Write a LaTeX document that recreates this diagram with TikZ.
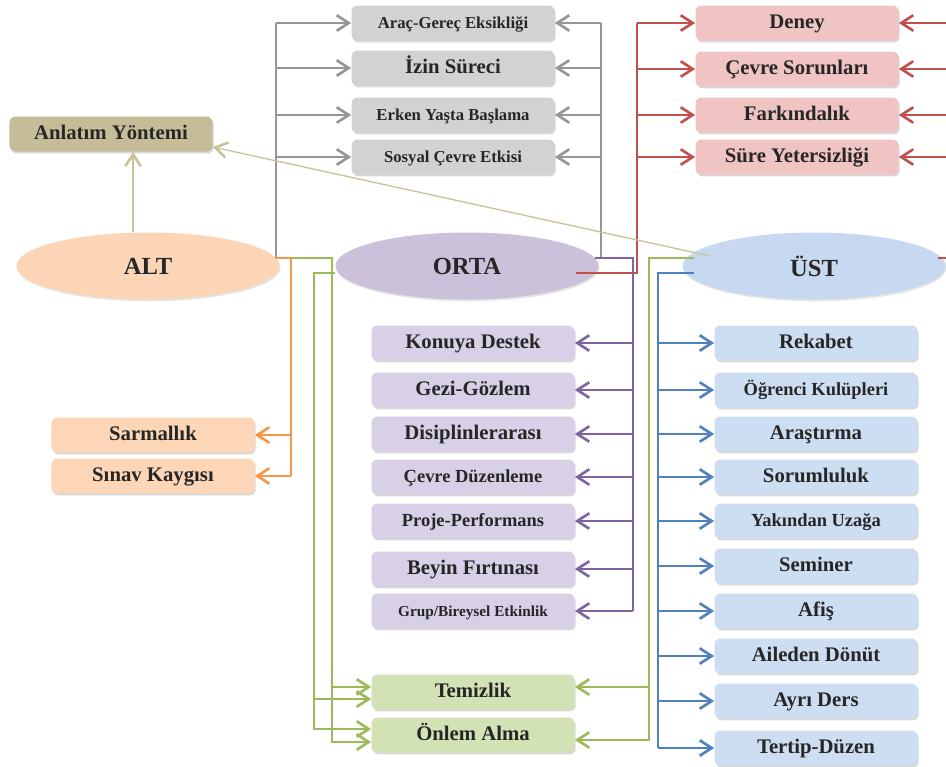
\documentclass[tikz,border=0pt]{standalone}
\usepackage{fontspec}
\setmainfont{Liberation Serif}
\usetikzlibrary{arrows.meta,positioning,shapes.geometric,calc,shadows}
\definecolor{dgray}{RGB}{150,150,150}
\definecolor{fgray}{RGB}{210,210,210}
\definecolor{dred}{RGB}{192,80,77}
\definecolor{fred}{RGB}{240,196,195}
\definecolor{dpurple}{RGB}{128,100,162}
\definecolor{fpurple}{RGB}{216,208,230}
\definecolor{dblue}{RGB}{79,129,189}
\definecolor{fblue}{RGB}{205,222,242}
\definecolor{dorange}{RGB}{247,150,70}
\definecolor{forange}{RGB}{252,214,182}
\definecolor{dgreen}{RGB}{155,187,89}
\definecolor{fgreen}{RGB}{210,226,180}
\definecolor{dkhaki}{RGB}{200,196,152}
\definecolor{fkhaki}{RGB}{196,189,151}
\definecolor{falt}{RGB}{251,213,181}
\definecolor{forta}{RGB}{204,193,218}
\definecolor{fust}{RGB}{198,217,241}
\newcommand{\fmain}{\fontsize{11.8}{14}\selectfont\bfseries}
\newcommand{\fmid}{\fontsize{10.5}{12}\selectfont\bfseries}
\newcommand{\fsmall}{\fontsize{9.5}{11}\selectfont\bfseries}
\newcommand{\ftiny}{\fontsize{8.7}{10}\selectfont\bfseries}
\newcommand{\foval}{\fontsize{14}{16}\selectfont\bfseries}

\begin{document}
\begin{tikzpicture}[x=0.2mm, y=-0.2mm,
  tbox/.style={rectangle, rounded corners=1.2mm, minimum width=4.06cm,
               minimum height=0.7cm, inner sep=1pt, font=\fmain, text=black!85,
               text height=1.6ex, text depth=0.3ex,
               drop shadow={shadow xshift=0.7pt, shadow yshift=-1.1pt, opacity=0.3}},
  oval/.style={ellipse, minimum width=5.26cm, minimum height=1.34cm,
               inner sep=0pt, font=\foval, text=black!85,
               drop shadow={shadow xshift=0.6pt, shadow yshift=-1pt, opacity=0.2}},
  cline/.style={line width=0.75pt},
  carr/.style={line width=0.75pt, -{Straight Barb[length=2.4mm, width=3.1mm, line width=1.5pt]}}
]
\path[use as bounding box, fill=white] (0,0) rectangle (946,767);
\clip (0,0) rectangle (946,767);

% Levels
\node[oval, fill=falt]  (alt)  at (148,266) {ALT};
\node[oval, fill=forta] (orta) at (467,266) {ORTA};
\node[oval, fill=fust]  (ust)  at (814,266) {ÜST};

% Left boxes
\node[tbox, fill=fkhaki]  (anl)   at (111,134) {Anlatım Yöntemi};
\node[tbox, fill=forange] (sar)   at (153,435) {Sarmallık};
\node[tbox, fill=forange] (sinav) at (153,476) {Sınav Kaygısı};

% Gray boxes
\node[tbox, fill=fgray, font=\fsmall] (arac)   at (453,23)  {Araç-Gereç Eksikliği};
\node[tbox, fill=fgray]               (izin)   at (453,68)  {İzin Süreci};
\node[tbox, fill=fgray, font=\fsmall] (erken)  at (453,115) {Erken Yaşta Başlama};
\node[tbox, fill=fgray, font=\fsmall] (sosyal) at (453,157) {Sosyal Çevre Etkisi};

% Red boxes
\node[tbox, fill=fred] (deney)  at (797,23)  {Deney};
\node[tbox, fill=fred] (cevres) at (797,69)  {Çevre Sorunları};
\node[tbox, fill=fred] (fark)   at (797,115) {Farkındalık};
\node[tbox, fill=fred] (sure)   at (797,157) {Süre Yetersizliği};

% Purple boxes
\node[tbox, fill=fpurple]             (konu)   at (473,343) {Konuya Destek};
\node[tbox, fill=fpurple]             (gezi)   at (473,390) {Gezi-Gözlem};
\node[tbox, fill=fpurple]             (disip)  at (473,434) {Disiplinlerarası};
\node[tbox, fill=fpurple, font=\fmid] (cevred) at (473,477) {Çevre Düzenleme};
\node[tbox, fill=fpurple, font=\fmid] (proje)  at (473,521) {Proje-Performans};
\node[tbox, fill=fpurple]             (beyin)  at (473,569) {Beyin Fırtınası};
\node[tbox, fill=fpurple, font=\ftiny] (grup)  at (473,611) {Grup/Bireysel Etkinlik};

% Green boxes
\node[tbox, fill=fgreen] (tem) at (473,692) {Temizlik};
\node[tbox, fill=fgreen] (onl) at (473,735) {Önlem Alma};

% Blue boxes
\node[tbox, fill=fblue]             (rek)  at (816,343) {Rekabet};
\node[tbox, fill=fblue, font=\fmid] (ogr)  at (816,390) {Öğrenci Kulüpleri};
\node[tbox, fill=fblue]             (aras) at (816,434) {Araştırma};
\node[tbox, fill=fblue]             (sor)  at (816,477) {Sorumluluk};
\node[tbox, fill=fblue, font=\fmid] (yak)  at (816,521) {Yakından Uzağa};
\node[tbox, fill=fblue]             (sem)  at (816,566) {Seminer};
\node[tbox, fill=fblue]             (afis) at (816,611) {Afiş};
\node[tbox, fill=fblue]             (aile) at (816,656) {Aileden Dönüt};
\node[tbox, fill=fblue]             (ayri) at (816,701) {Ayrı Ders};
\node[tbox, fill=fblue]             (tert) at (816,748) {Tertip-Düzen};

% Joints
\coordinate (altJ)  at ($(alt.east)+(-4,-8)$);
\coordinate (altO)  at ($(altJ)+(15,0)$);
\coordinate (altG)  at ($(altJ)+(56,0)$);
\coordinate (altN)  at ($(alt.north)+(-15,0)$);
\coordinate (ortW)  at ($(orta.west)+(0,7)$);
\coordinate (ortG)  at ($(ortW)+(-21,0)$);
\coordinate (ortE)  at ($(orta.east)+(-4,-8)$);
\coordinate (ortGr) at ($(ortE)+(6,0)$);
\coordinate (ortP)  at ($(ortE)+(38,0)$);
\coordinate (ortR)  at ($(orta.east)+(-23,7)$);
\coordinate (ortRv) at ($(ortR)+(61,0)$);
\coordinate (ustG)  at ($(ust.west)+(12,-8)$);
\coordinate (ustGv) at ($(ustG)+(-45,0)$);
\coordinate (ustB)  at ($(ust.west)+(12,7)$);
\coordinate (ustBv) at ($(ustB)+(-36,0)$);
\coordinate (ustR)  at ($(ust.east)+(-8,-8)$);
\coordinate (ustRv) at ($(ustR)+(25,0)$);
\coordinate (temA)  at ($(tem.west)+(0,-5)$);
\coordinate (temB)  at ($(tem.west)+(0,7)$);
\coordinate (temC)  at ($(tem.east)+(0,-5)$);
\coordinate (onlA)  at ($(onl.west)+(0,7)$);
\coordinate (onlB)  at ($(onl.west)+(0,-6)$);
\coordinate (onlC)  at ($(onl.east)+(0,5)$);

% ALT arrows
\draw[carr, dkhaki] (altN) -- (altN |- anl.south);
\draw[cline, dgray] (altJ) -- (altJ |- arac.west);
\foreach \n in {arac,izin,erken,sosyal}
  \draw[carr, dgray] (altJ |- \n.west) -- (\n.west);
\draw[carr, dgreen] (altJ) -| (altG |- onlA) -- (onlA);
\draw[carr, dgreen] (altG |- temA) -- (temA);
\draw[cline, dorange] (altJ) -- (altO) -- (altO |- sinav.east);
\foreach \n in {sar,sinav}
  \draw[carr, dorange] (altO |- \n.east) -- (\n.east);

% ORTA arrows
\draw[carr, dgreen] (ortW) -- (ortG) |- (onlB);
\draw[carr, dgreen] (ortG |- temB) -- (temB);
\draw[cline, dgray] (ortE) -- (ortGr) -- (ortGr |- arac.east);
\foreach \n in {arac,izin,erken,sosyal}
  \draw[carr, dgray] (ortGr |- \n.east) -- (\n.east);
\draw[cline, dpurple] (ortE) -- (ortP) -- (ortP |- grup.east);
\foreach \n in {konu,gezi,disip,cevred,proje,beyin,grup}
  \draw[carr, dpurple] (ortP |- \n.east) -- (\n.east);
\draw[cline, dred] (ortR) -- (ortRv) -- (ortRv |- deney.west);
\foreach \n in {deney,cevres,fark,sure}
  \draw[carr, dred] (ortRv |- \n.west) -- (\n.west);

% UST arrows
\draw[carr, dkhaki] ($(ust.west)+(28,-10)$) -- ($(anl.east)+(0,13)$);
\draw[carr, dgreen] (ustG) -- (ustGv) |- (onlC);
\draw[carr, dgreen] (ustGv |- temC) -- (temC);
\draw[cline, dblue] (ustB) -- (ustBv) -- (ustBv |- tert.west);
\foreach \n in {rek,ogr,aras,sor,yak,sem,afis,aile,ayri,tert}
  \draw[carr, dblue] (ustBv |- \n.west) -- (\n.west);
\draw[cline, dred] (ustR) -- (ustRv) -- (ustRv |- deney.east);
\foreach \n in {deney,cevres,fark,sure}
  \draw[carr, dred] (ustRv |- \n.east) -- (\n.east);
\end{tikzpicture}
\end{document}
